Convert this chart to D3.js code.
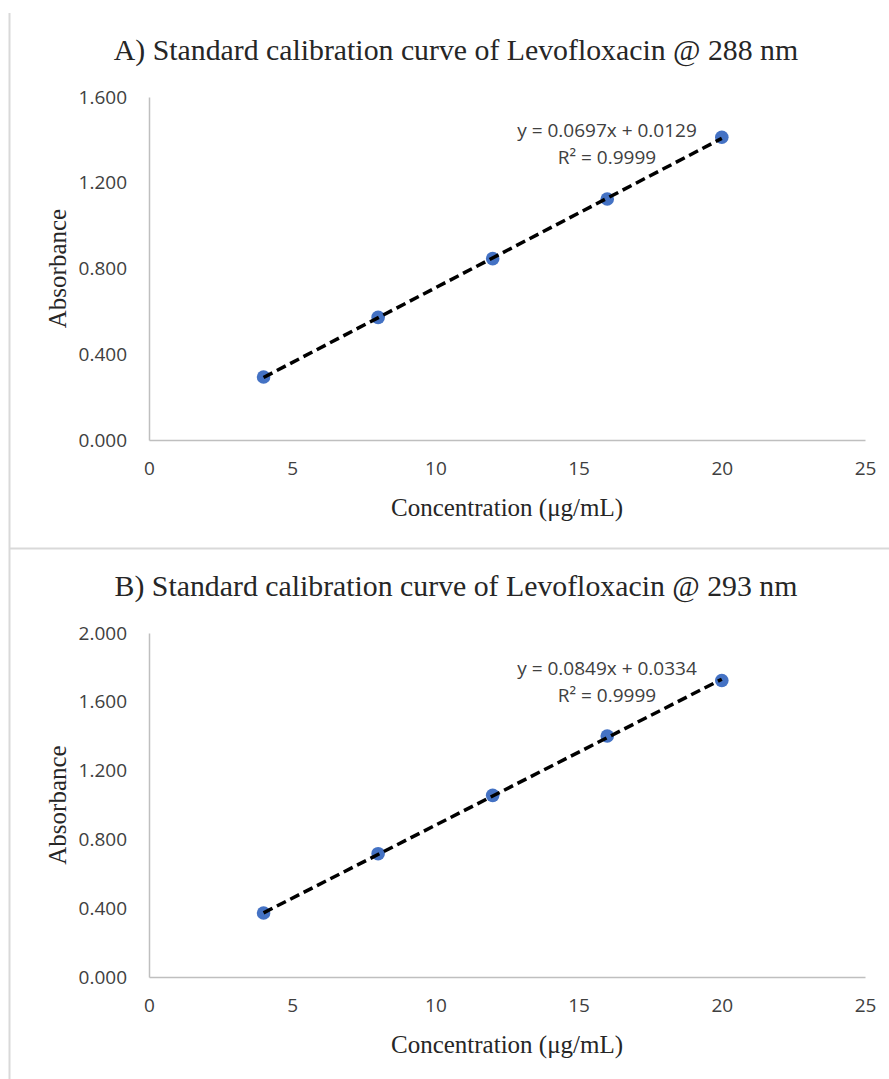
<!DOCTYPE html>
<html>
<head>
<meta charset="utf-8">
<script src="https://cdn.jsdelivr.net/npm/d3@7"></script>
<style>
  body { margin: 0; background: #fff; }
  .tick text { font-family: "Open Sans", sans-serif; font-size: 19px; fill: #404040; }
  .chart-title, .axis-title { font-family: "Liberation Serif", "Times New Roman", serif; fill: #262626; }
  .eq-label { font-family: "Open Sans", sans-serif; font-size: 19px; fill: #404040; }
</style>
</head>
<body>
<div id="chart"></div>
<script>
// data
const concentration = [4, 8, 12, 16, 20];
const absorbanceA = [0.294, 0.572, 0.846, 1.124, 1.412];
const absorbanceB = [0.372, 0.717, 1.056, 1.401, 1.724];
const xTicks = [0, 5, 10, 15, 20, 25];
const yTicksA = [0, 0.4, 0.8, 1.2, 1.6];
const yTicksB = [0, 0.4, 0.8, 1.2, 1.6, 2.0];
const slopes = [0.0697, 0.0849];
const intercepts = [0.0129, 0.0334];
const rSquared = [0.9999, 0.9999];
const titles = [
  'A) Standard calibration curve of Levofloxacin @ 288 nm',
  'B) Standard calibration curve of Levofloxacin @ 293 nm'
];

const width = 889, height = 1079;

const svg = d3.select('#chart').append('svg')
    .attr('width', width)
    .attr('height', height);

svg.append('rect').attr('width', width).attr('height', height).attr('fill', '#fff');

// panel borders
svg.append('line')
    .attr('x1', 9.5).attr('x2', 9.5).attr('y1', 13).attr('y2', height)
    .attr('stroke', '#d9d9d9').attr('stroke-width', 2);
svg.append('line')
    .attr('x1', 10).attr('x2', width).attr('y1', 548.5).attr('y2', 548.5)
    .attr('stroke', '#d9d9d9').attr('stroke-width', 2);

function drawChart(cfg) {
  const g = svg.append('g');

  const x = d3.scaleLinear().domain([0, 25]).range([149, 865]);
  const y = d3.scaleLinear().domain([0, cfg.yTicks[cfg.yTicks.length - 1]]).range([cfg.bottom, cfg.top]);

  // title
  g.append('text')
      .attr('class', 'chart-title')
      .attr('x', 456)
      .attr('y', cfg.top - 37)
      .attr('text-anchor', 'middle')
      .style('font-size', '29.8px')
      .text(cfg.title);

  // axes
  const yAxis = g.append('g')
      .attr('transform', `translate(${x(0)},0)`)
      .call(d3.axisLeft(y).tickValues(cfg.yTicks).tickFormat(d3.format('.3f')).tickSize(0).tickPadding(22));
  const xAxis = g.append('g')
      .attr('transform', `translate(0,${y(0)})`)
      .call(d3.axisBottom(x).tickValues(xTicks).tickSize(0).tickPadding(22));
  [xAxis, yAxis].forEach(a => {
    a.select('.domain').attr('stroke', '#bfbfbf').attr('stroke-width', 1.5);
    a.selectAll('.tick line').remove();
  });

  // axis titles
  g.append('text')
      .attr('class', 'axis-title')
      .attr('x', (x.range()[0] + x.range()[1]) / 2)
      .attr('y', y(0) + 76)
      .attr('text-anchor', 'middle')
      .style('font-size', '25px')
      .text('Concentration (μg/mL)');
  g.append('text')
      .attr('class', 'axis-title')
      .attr('transform', `translate(66,${(cfg.top + cfg.bottom) / 2}) rotate(-90)`)
      .attr('text-anchor', 'middle')
      .style('font-size', '25px')
      .text('Absorbance');

  // points
  g.selectAll('.pt')
      .data(concentration.map((c, i) => ({x: c, y: cfg.values[i]})))
    .join('circle')
      .attr('class', 'pt')
      .attr('cx', d => x(d.x))
      .attr('cy', d => y(d.y))
      .attr('r', 6.8)
      .attr('fill', '#4472c4');

  // linear trendline over the data range
  const ext = d3.extent(concentration);
  g.append('path')
      .datum(ext.map(c => [c, cfg.slope * c + cfg.intercept]))
      .attr('d', d3.line().x(d => x(d[0])).y(d => y(d[1])))
      .attr('fill', 'none')
      .attr('stroke', '#000')
      .attr('stroke-width', 3.5)
      .attr('stroke-dasharray', '10,5');

  // equation label
  const lbl = g.append('text')
      .attr('class', 'eq-label')
      .attr('text-anchor', 'middle');
  lbl.append('tspan')
      .attr('x', 607).attr('y', cfg.top + cfg.labelDy)
      .text(`y = ${cfg.slope}x + ${cfg.intercept}`);
  lbl.append('tspan')
      .attr('x', 607).attr('y', cfg.top + cfg.labelDy + 27)
      .text(`R² = ${cfg.r2}`);
}

drawChart({
  title: titles[0], values: absorbanceA, yTicks: yTicksA,
  slope: slopes[0], intercept: intercepts[0], r2: rSquared[0],
  top: 97, bottom: 440, labelDy: 40
});
drawChart({
  title: titles[1], values: absorbanceB, yTicks: yTicksB,
  slope: slopes[1], intercept: intercepts[1], r2: rSquared[1],
  top: 633, bottom: 977, labelDy: 42
});
</script>
</body>
</html>
